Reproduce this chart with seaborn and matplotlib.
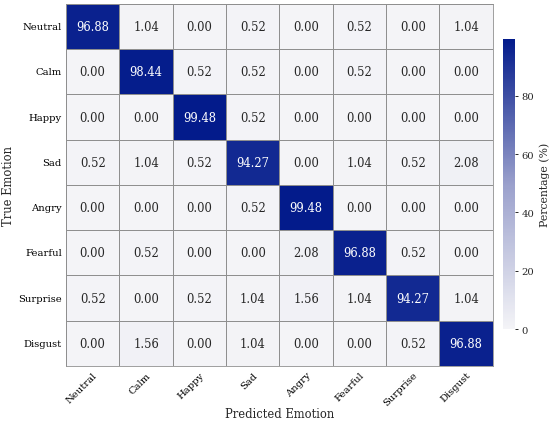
import numpy as np
import pandas as pd
import seaborn as sns
import matplotlib
matplotlib.use("Agg")
import matplotlib.pyplot as plt
from matplotlib.colors import LinearSegmentedColormap

emotions = ["Neutral", "Calm", "Happy", "Sad", "Angry", "Fearful", "Surprise", "Disgust"]

# rows = true emotion, cols = predicted emotion (percent)
row_neutral = [96.88, 1.04, 0.00, 0.52, 0.00, 0.52, 0.00, 1.04]
row_calm = [0.00, 98.44, 0.52, 0.52, 0.00, 0.52, 0.00, 0.00]
row_happy = [0.00, 0.00, 99.48, 0.52, 0.00, 0.00, 0.00, 0.00]
row_sad = [0.52, 1.04, 0.52, 94.27, 0.00, 1.04, 0.52, 2.08]
row_angry = [0.00, 0.00, 0.00, 0.52, 99.48, 0.00, 0.00, 0.00]
row_fearful = [0.00, 0.52, 0.00, 0.00, 2.08, 96.88, 0.52, 0.00]
row_surprise = [0.52, 0.00, 0.52, 1.04, 1.56, 1.04, 94.27, 1.04]
row_disgust = [0.00, 1.56, 0.00, 1.04, 0.00, 0.00, 0.52, 96.88]

cm = pd.DataFrame([row_neutral, row_calm, row_happy, row_sad,
                   row_angry, row_fearful, row_surprise, row_disgust],
                  index=emotions, columns=emotions)

sns.set_style("white")
plt.rcParams['font.family'] = ['DejaVu Serif']

cmap = LinearSegmentedColormap.from_list("bluecm", ["#f4f4f7", "#9aa0cc", "#031b8b"])

fig = plt.figure(figsize=(5.5, 4.27), dpi=100)
ax = fig.add_axes([0.12, 0.1405, 0.776, 0.848])
cax = fig.add_axes([0.9145, 0.227, 0.022, 0.679])

sns.heatmap(cm, ax=ax, cbar_ax=cax, cmap=cmap, vmin=0, vmax=cm.values.max(),
            annot=True, fmt=".2f", annot_kws={"size": 8.3},
            linewidths=0.6, linecolor="#8f8f8f",
            cbar_kws={"label": "Percentage (%)"})

for sp in ax.spines.values():
    sp.set_visible(True)
    sp.set_color("#8f8f8f")
    sp.set_linewidth(0.6)

ax.set_xticklabels(emotions, rotation=45, ha="right", rotation_mode="anchor", fontsize=7.2)
ax.set_yticklabels(emotions, rotation=0, fontsize=7.2)
ax.tick_params(axis="both", length=0, pad=3, colors="black")
ax.set_xlabel("Predicted Emotion", fontsize=8.3)
ax.set_ylabel("True Emotion", fontsize=8.3)
ax.xaxis.set_label_coords(0.5, -0.113)
ax.yaxis.set_label_coords(-0.12, 0.5)

cax.set_yticks([0, 20, 40, 60, 80])
cax.tick_params(labelsize=7.2, length=2.5, width=0.7, pad=2)
cax.set_ylabel("Percentage (%)", fontsize=7.8, labelpad=4)
for sp in cax.spines.values():
    sp.set_visible(False)

fig.savefig("out.png", dpi=100)
